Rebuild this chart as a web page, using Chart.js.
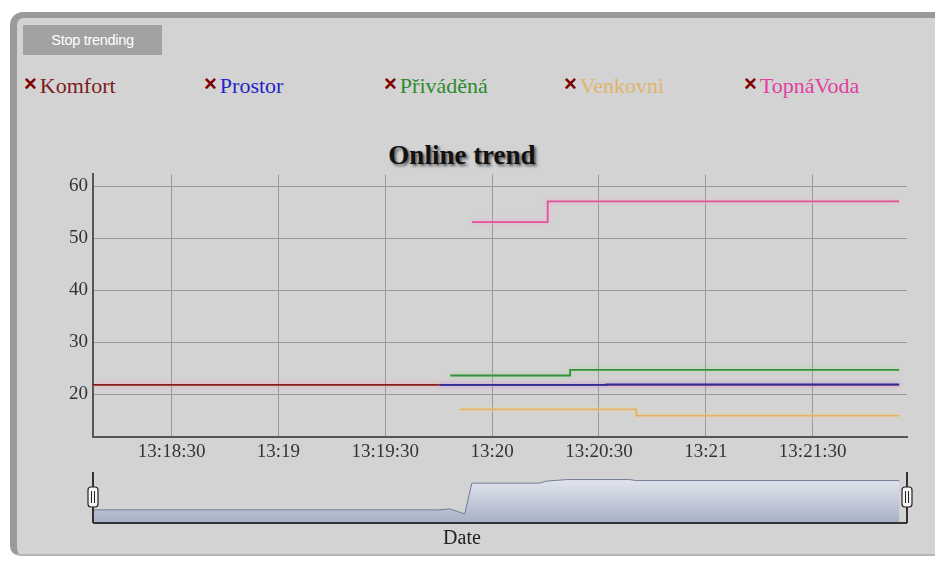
<!DOCTYPE html>
<html>
<head>
<meta charset="utf-8">
<script src="https://cdn.jsdelivr.net/npm/chart.js@4.4.1/dist/chart.umd.min.js"></script>
<style>
  body { margin: 0; background: #fff; width: 935px; height: 561px; overflow: hidden; position: relative; }
  #panel {
    position: absolute; left: 10px; top: 12px; width: 940px; height: 536px;
    background: #d3d3d3; border-top: 6px solid #9a9a9a; border-left: 7px solid #9a9a9a;
    border-bottom: 2px solid #b5b5b5; border-radius: 13px 0 0 10px;
  }
  #stopBtn {
    position: absolute; left: 23px; top: 25px; width: 139px; height: 30px;
    background: #a2a2a2; color: #fff; font: 14.5px Arial, "Liberation Sans", sans-serif;
    line-height: 31px; text-align: center; letter-spacing: -0.3px;
  }
  .leg { position: absolute; top: 73px; font: 22px "Liberation Serif", serif; line-height: 22px; white-space: nowrap; }
  .leg b { color: #800000; font: bold 22px Arial, "Liberation Sans", sans-serif; margin-right: 3px; position: relative; top: -2px; }
  #title {
    position: absolute; left: 0; width: 924px; top: 142px; text-align: center;
    font: bold 27px "Liberation Serif", serif; line-height: 27px; color: #111;
    text-shadow: 2px 2px 3px #555;
  }
  #dateLbl { position: absolute; left: 0; width: 924px; top: 527px; text-align: center; font: 20px "Liberation Serif", serif; line-height: 20px; color: #222; }
  canvas { position: absolute; left: 0; }
</style>
</head>
<body>
<div id="panel"></div>
<div id="stopBtn">Stop trending</div>
<div id="legend"></div>
<div id="title">Online trend</div>
<canvas id="trend" width="935" height="309" style="top:158px"></canvas>
<canvas id="overview" width="935" height="66" style="top:462px"></canvas>
<div id="dateLbl">Date</div>
<script>
// seconds after 13:18:00
const xMin = 7.92;
const xMax = 236.5;
const xTicks = [30, 60, 90, 120, 150, 180, 210];
const xTickLabels = ['13:18:30', '13:19', '13:19:30', '13:20', '13:20:30', '13:21', '13:21:30'];
const yTicks = [20, 30, 40, 50, 60];

const seriesNames = ['Komfort', 'Prostor', 'Přiváděná', 'Venkovni', 'TopnáVoda'];
const komfortT = [7.9, 234.3];
const komfortV = [21.8, 21.8];
const prostorT = [105.3, 152.1, 234.3];
const prostorV = [21.8, 21.9, 21.9];
const privadenaT = [108.2, 141.9, 234.3];
const privadenaV = [23.6, 24.7, 24.7];
const venkovniT = [110.9, 160.5, 234.3];
const venkovniV = [17.1, 15.9, 15.9];
const topnaT = [114.3, 135.6, 234.3];
const topnaV = [53.1, 57.1, 57.1];

// range selector mini plot
const overviewT = [7.9, 105.3, 108.1, 112.3, 114.3, 133.3, 135.3, 140.9, 158.6, 160.5, 234.3];
const overviewV = [21.9, 21.9, 22.1, 21.1, 27.2, 27.2, 27.6, 27.9, 27.9, 27.7, 27.7];

const lineColors = ['#8b1c1c', '#2b2b9e', '#3b8f3b', '#e3b264', '#e0529a'];
const haloColors = ['#f09aa6', '#b0a0f0', '#9ad89a', '#f2d8a8', '#f7a8cc'];
const legendColors = ['#7a1e1e', '#2424c8', '#2e8a2e', '#e0b56a', '#e040a0'];

// ========== legend ==========
const legendEl = document.getElementById('legend');
seriesNames.forEach((name, i) => {
  const span = document.createElement('div');
  span.className = 'leg';
  span.style.left = (24 + i * 180) + 'px';
  span.style.color = legendColors[i];
  span.innerHTML = '<b>×</b>' + name;
  legendEl.appendChild(span);
});

const toPoints = (ts, vs) => ts.map((t, i) => ({ x: t, y: vs[i] }));
const allT = [komfortT, prostorT, privadenaT, venkovniT, topnaT];
const allV = [komfortV, prostorV, privadenaV, venkovniV, topnaV];

const halo = {
  id: 'halo',
  beforeDatasetDraw(chart, args) {
    chart.ctx.save();
    chart.ctx.shadowColor = haloColors[args.index];
    chart.ctx.shadowBlur = 5;
  },
  afterDatasetDraw(chart) {
    chart.ctx.restore();
  }
};

const tickFont = { family: '"Liberation Serif", serif', size: 19 };

new Chart(document.getElementById('trend'), {
  type: 'line',
  data: {
    datasets: seriesNames.map((name, i) => ({
      label: name,
      data: toPoints(allT[i], allV[i]),
      borderColor: lineColors[i],
      borderWidth: 1.8,
      pointRadius: 0,
      stepped: 'before',
      order: i === 0 ? 10 : i
    }))
  },
  options: {
    responsive: false,
    animation: false,
    layout: { padding: { top: 5, right: 28, left: 0, bottom: 0 } },
    plugins: { legend: { display: false }, tooltip: { enabled: false } },
    scales: {
      x: {
        type: 'linear', min: xMin, max: xMax,
        afterBuildTicks: (s) => { s.ticks = xTicks.map(v => ({ value: v })); },
        afterFit: (s) => { s.height = 30; },
        ticks: { color: '#333', font: tickFont, padding: 4, maxRotation: 0,
          callback: (v) => xTickLabels[xTicks.indexOf(v)] },
        grid: { color: '#999', drawTicks: false },
        border: { color: '#555', width: 2 }
      },
      y: {
        min: 11.77, max: 62.3,
        afterBuildTicks: (s) => { s.ticks = yTicks.map(v => ({ value: v })); },
        afterFit: (s) => { s.width = 93; },
        ticks: { color: '#333', font: tickFont, padding: 5 },
        grid: { color: '#999', drawTicks: false },
        border: { color: '#555', width: 2 }
      }
    }
  },
  plugins: [halo]
});

// ========== range selector ==========
const handles = {
  id: 'handles',
  afterDraw(chart) {
    const { ctx, chartArea: a } = chart;
    ctx.save();
    ctx.strokeStyle = '#333';
    ctx.lineWidth = 2;
    ctx.beginPath();
    ctx.moveTo(a.left, a.bottom); ctx.lineTo(a.right, a.bottom);
    ctx.moveTo(a.left, a.top + 2); ctx.lineTo(a.left, a.bottom);
    ctx.moveTo(a.right, a.top + 2); ctx.lineTo(a.right, a.bottom);
    ctx.stroke();
    [a.left, a.right].forEach(x => {
      ctx.fillStyle = '#f4f4f4';
      ctx.strokeStyle = '#222';
      ctx.lineWidth = 1.2;
      ctx.beginPath();
      ctx.roundRect(x - 5, a.top + 17, 10, 20, 3);
      ctx.fill(); ctx.stroke();
      ctx.beginPath();
      ctx.moveTo(x - 1.5, a.top + 21); ctx.lineTo(x - 1.5, a.top + 33);
      ctx.moveTo(x + 1.5, a.top + 21); ctx.lineTo(x + 1.5, a.top + 33);
      ctx.lineWidth = 1;
      ctx.stroke();
    });
    ctx.restore();
  }
};

new Chart(document.getElementById('overview'), {
  type: 'line',
  data: {
    datasets: [{
      data: toPoints(overviewT, overviewV),
      borderColor: '#6f7b94',
      borderWidth: 1,
      pointRadius: 0,
      fill: 'start',
      backgroundColor: (c) => {
        const a = c.chart.chartArea;
        if (!a) return '#c8cedc';
        const g = c.chart.ctx.createLinearGradient(0, a.top, 0, a.bottom);
        g.addColorStop(0, '#eef0f6');
        g.addColorStop(1, '#a6afc6');
        return g;
      }
    }]
  },
  options: {
    responsive: false,
    animation: false,
    layout: { padding: { top: 8, right: 28, left: 93, bottom: 5 } },
    plugins: { legend: { display: false }, tooltip: { enabled: false } },
    scales: {
      x: { type: 'linear', min: xMin, max: xMax, display: false },
      y: { min: 19.3, max: 29.8, display: false }
    }
  },
  plugins: [handles]
});
</script>
</body>
</html>
